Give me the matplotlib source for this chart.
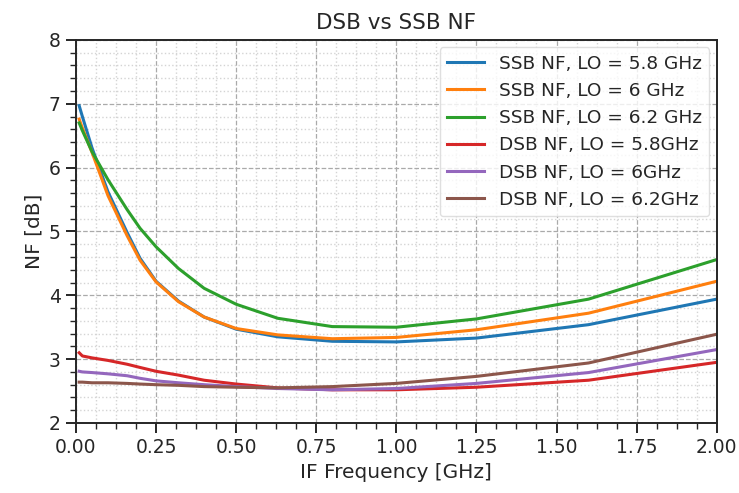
import matplotlib
matplotlib.use("Agg")
import matplotlib.pyplot as plt
from matplotlib.ticker import AutoMinorLocator

x_if = [0.01, 0.02, 0.05, 0.1, 0.16, 0.2, 0.25, 0.32, 0.4, 0.5, 0.63, 0.8, 1.0, 1.25, 1.6, 2.0]

ssb_58 = [6.97, 6.80, 6.31, 5.62, 4.98, 4.58, 4.22, 3.91, 3.66, 3.47, 3.35, 3.28, 3.27, 3.33, 3.54, 3.94]
ssb_6 = [6.76, 6.62, 6.24, 5.56, 4.93, 4.55, 4.21, 3.90, 3.66, 3.48, 3.38, 3.32, 3.34, 3.46, 3.72, 4.22]
ssb_62 = [6.70, 6.58, 6.25, 5.81, 5.34, 5.05, 4.76, 4.42, 4.11, 3.86, 3.64, 3.51, 3.50, 3.63, 3.94, 4.56]
dsb_58 = [3.10, 3.05, 3.02, 2.98, 2.92, 2.87, 2.81, 2.75, 2.67, 2.61, 2.55, 2.52, 2.52, 2.56, 2.67, 2.95]
dsb_6 = [2.81, 2.80, 2.79, 2.77, 2.74, 2.70, 2.66, 2.63, 2.60, 2.57, 2.54, 2.52, 2.54, 2.62, 2.79, 3.15]
dsb_62 = [2.64, 2.64, 2.63, 2.63, 2.62, 2.61, 2.60, 2.59, 2.57, 2.56, 2.55, 2.57, 2.62, 2.73, 2.94, 3.39]

series = [
    (ssb_58, "SSB NF, LO = 5.8 GHz"),
    (ssb_6, "SSB NF, LO = 6 GHz"),
    (ssb_62, "SSB NF, LO = 6.2 GHz"),
    (dsb_58, "DSB NF, LO = 5.8GHz"),
    (dsb_6, "DSB NF, LO = 6GHz"),
    (dsb_62, "DSB NF, LO = 6.2GHz"),
]
colors = ["#1f77b4", "#ff7f0e", "#2ca02c", "#d62728", "#9467bd", "#8c564b"]

plt.rcParams['font.family'] = ['DejaVu Sans']
dark = "#262626"
plt.rcParams['text.color'] = dark
plt.rcParams['axes.labelcolor'] = dark
plt.rcParams['xtick.color'] = dark
plt.rcParams['ytick.color'] = dark

fig = plt.figure(figsize=(7.39, 4.93), dpi=100)
ax = fig.add_axes([0.1028, 0.142, 0.867, 0.777])

for (vals, lab), c in zip(series, colors):
    ax.plot(x_if, vals, color=c, lw=2.2, label=lab)

ax.set_xlim(0, 2)
ax.set_ylim(2, 8)
ax.set_xticks([0, 0.25, 0.5, 0.75, 1.0, 1.25, 1.5, 1.75, 2.0])
ax.xaxis.set_minor_locator(AutoMinorLocator(4))
ax.yaxis.set_minor_locator(AutoMinorLocator(5))
ax.grid(which='major', linestyle='--', color='#aaaaaa', lw=0.9)
ax.grid(which='minor', linestyle=':', color='#d4d4d4', lw=1.0)
ax.set_axisbelow(True)

for s in ax.spines.values():
    s.set_color(dark)
    s.set_linewidth(1.4)
ax.tick_params(which='major', length=7, width=1.4, labelsize=13.5, direction='out', pad=4)
ax.tick_params(which='minor', length=4, width=1.0, direction='out')

ax.set_xlabel("IF Frequency [GHz]", fontsize=14.5)
ax.set_ylabel("NF [dB]", fontsize=14.5)
ax.set_title("DSB vs SSB NF", fontsize=15.5, pad=8)

leg = ax.legend(loc='upper right', fontsize=13.3, handlelength=2.0, framealpha=0.8,
                borderaxespad=0.4)
leg.get_frame().set_edgecolor('#d8d8d8')

fig.savefig("out.png", dpi=100)
